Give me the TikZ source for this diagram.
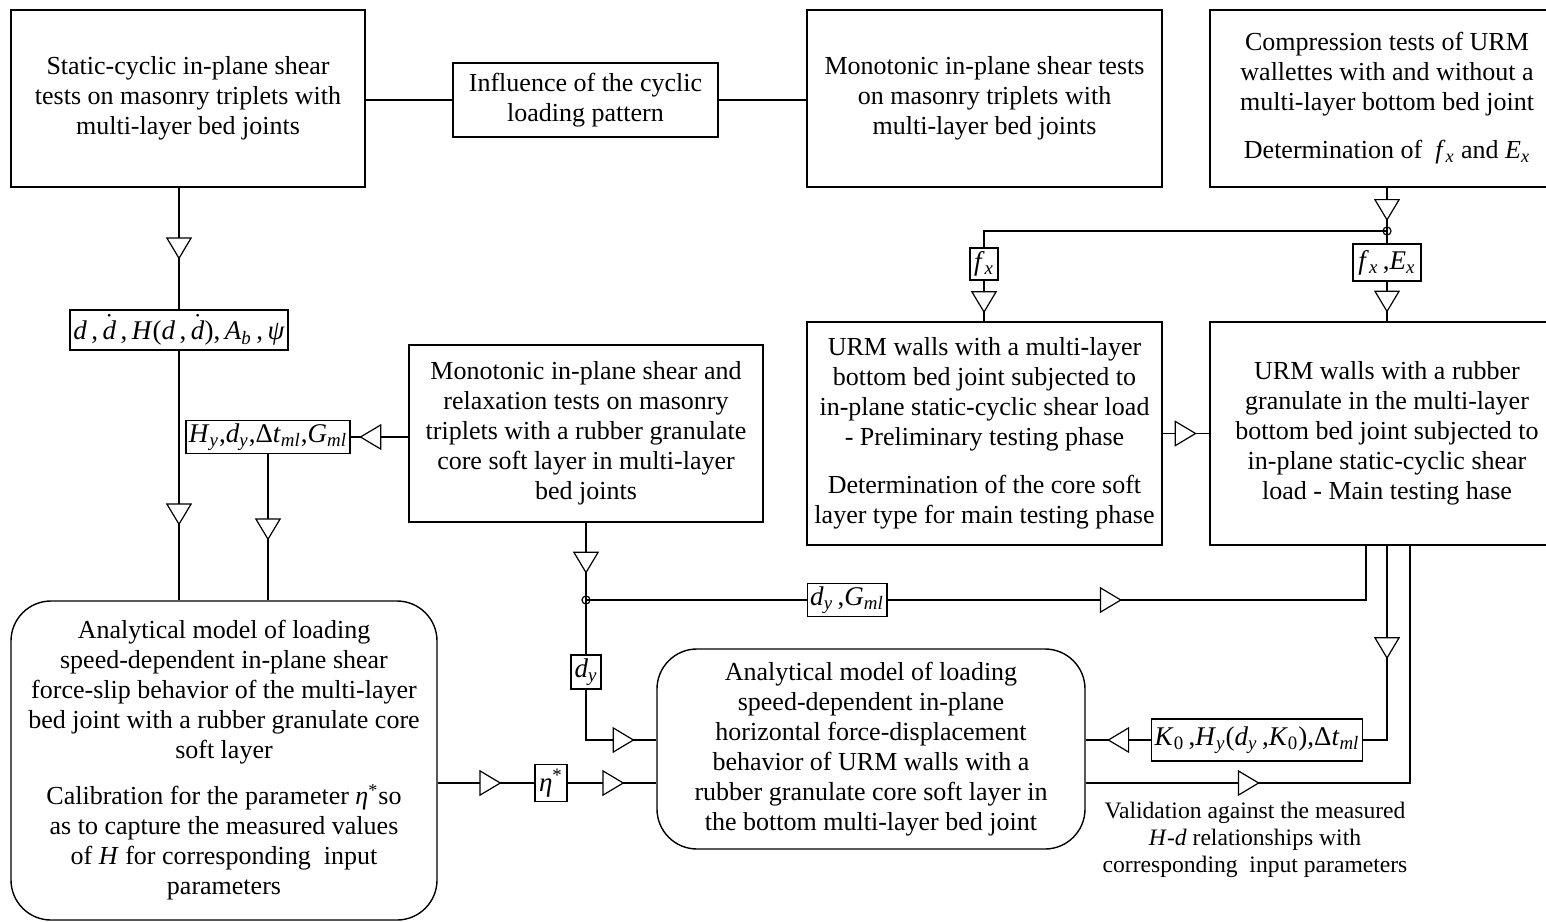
\documentclass[tikz,border=0pt]{standalone}
\usepackage{fontspec}
\setmainfont{Liberation Serif}
\usetikzlibrary{arrows.meta,decorations.markings}
\newcommand{\iv}[1]{\textit{#1}}
\newcommand{\ivs}[2]{\textit{#1}\textsubscript{\textit{#2}}}
\newcommand{\ivdot}{$\dot{\mbox{\textit{d}}}$}
\tikzset{
  box/.style={draw, line width=0.7pt, align=center, inner sep=2pt, font=\fontsize{13}{15}\selectfont},
  rbox/.style={box, rounded corners=20pt},
  lab/.style={draw, line width=0.7pt, inner sep=1.5pt, fill=white, font=\fontsize{13.5}{16}\selectfont},
  flow/.style={postaction={decorate}, decoration={markings,
    mark=at position #1 with {\arrow{Triangle[length=11pt,width=13pt,fill=white,line width=0.6pt]}}}},
  flow/.default=0.5
}
\begin{document}
\begin{tikzpicture}[x=0.5pt, y=-0.5pt, line width=0.6pt]
  \useasboundingbox (0,0) rectangle (1546,921);

  \node[box, minimum width=177pt, minimum height=88.5pt] (static) at (188,98.5)
    {Static-cyclic in-plane shear\\tests on masonry triplets with\\multi-layer bed joints};
  \node[box, minimum width=132.5pt, minimum height=37pt] (influence) at (585.5,100)
    {Influence of the cyclic\\loading pattern};
  \node[box, minimum width=177.5pt, minimum height=88.5pt] (mono) at (984.5,98.5)
    {Monotonic in-plane shear tests\\on masonry triplets with\\multi-layer bed joints};
  \node[box, minimum width=177pt, minimum height=88.5pt] (comp) at (1387,98.5)
    {Compression tests of URM\\wallettes with and without a\\multi-layer bottom bed joint\\[9pt]Determination of \ \ivs{f}{x} and \ivs{E}{x}};

  \node[box, minimum width=177.5pt, minimum height=111.5pt] (wallA) at (984.5,433.5)
    {URM walls with a multi-layer\\bottom bed joint subjected to\\in-plane static-cyclic shear load\\- Preliminary testing phase\\[9pt]Determination of the core soft\\layer type for main testing phase};
  \node[box, minimum width=177pt, minimum height=111.5pt] (wallB) at (1387,433.5)
    {URM walls with a rubber\\granulate in the multi-layer\\bottom bed joint subjected to\\in-plane static-cyclic shear\\load - Main testing hase};
  \node[box, minimum width=177pt, minimum height=88.5pt] (relax) at (586,433.5)
    {Monotonic in-plane shear and\\relaxation tests on masonry\\triplets with a rubber granulate\\core soft layer in multi-layer\\bed joints};

  \node[rbox, minimum width=213pt, minimum height=159.5pt] (model1) at (224,760.5)
    {Analytical model of loading\\speed-dependent in-plane shear\\force-slip behavior of the multi-layer\\bed joint with a rubber granulate core\\soft layer\\[8pt]Calibration for the parameter \iv{η}\textsuperscript{*}so\\as to capture the measured values\\of \iv{H} for corresponding\ \ input\\parameters};
  \node[rbox, minimum width=214pt, minimum height=100pt] (model2) at (871,749)
    {Analytical model of loading\\speed-dependent in-plane\\horizontal force-displacement\\behavior of URM walls with a\\rubber granulate core soft layer in\\the bottom multi-layer bed joint};

  \node[align=center, font=\fontsize{11.8}{13.5}\selectfont] (valtext) at (1255,840)
    {Validation against the measured\\\iv{H}-\iv{d} relationships with\\corresponding\ \ input parameters};

  \node[lab, minimum width=109pt, minimum height=20pt] (dlab) at (179,330)
    {\iv{d}\,,\,\ivdot\,,\,\iv{H}(\iv{d}\,,\,\ivdot),\,\ivs{A}{b}\,,\,\iv{ψ}};
  \node[lab, minimum width=82pt, minimum height=15pt] (hylab) at (268,437)
    {\ivs{H}{y},\ivs{d}{y},Δ\ivs{t}{ml},\ivs{G}{ml}};
  \node[lab, minimum width=14pt, minimum height=16pt] (fxlab) at (984,264) {\ivs{f}{x}};
  \node[lab, minimum width=34pt, minimum height=18.5pt] (fxelab) at (1387,262.5) {\ivs{f}{x}\,,\ivs{E}{x}};
  \node[lab, minimum width=37pt, minimum height=15pt] (dyglab) at (847,600) {\ivs{d}{y}\,,\ivs{G}{ml}};
  \node[lab, minimum width=15pt, minimum height=17pt] (dylab) at (586,672) {\ivs{d}{y}};
  \node[lab, minimum width=16pt, minimum height=18.5pt] (etalab) at (551,783) {\iv{η}\textsuperscript{*}};
  \node[lab, minimum width=105pt, minimum height=21pt] (k0lab) at (1257,740)
    {\iv{K}\textsubscript{0}\,,\ivs{H}{y}(\ivs{d}{y}\,,\iv{K}\textsubscript{0}),Δ\ivs{t}{ml}};

  \coordinate (j1) at (1387,231);
  \coordinate (j2) at (586,600);
  \coordinate (c1) at (1366,600);
  \coordinate (c2) at (1410,783);

  \draw (influence.west -| static.east) -- (influence.west);
  \draw (influence.east) -- (influence.east -| mono.west);

  \draw[flow=0.59] (static.south -| dlab.north) -- (dlab.north);
  \draw[flow=0.7] (dlab.south) -- (dlab.south |- model1.north);
  \draw[flow=0.85] (relax.west |- hylab) -- (hylab.east);
  \draw[flow=0.59] (hylab.south) -- (hylab.south |- model1.north);

  \draw[flow=0.77] (comp.south) -- (j1);
  \draw (j1) -| (fxlab.north);
  \draw (j1) -- (fxelab.north);
  \draw[flow=0.8] (fxlab.south) -- (fxlab.south |- wallA.north);
  \draw[flow=0.78] (fxelab.south) -- (wallB.north);
  \draw[flow=0.73] (wallA.east) -- (wallB.west);

  \draw[flow=0.66] (relax.south) -- (j2);
  \draw (j2) -- (dyglab.west);
  \draw (j2) -- (dylab.north);
  \draw[flow=0.44] (dyglab.east) -- (c1) -- (c1 |- wallB.south);
  \draw[flow=0.82] (dylab.south) |- (k0lab -| model2.west);
  \draw[flow=0.52] (wallB.south) |- (k0lab.east);
  \draw[flow=0.67] (k0lab.west) -- (k0lab -| model2.east);
  \draw[flow=0.31] (model2.east |- c2) -- (c2) -- (c2 |- wallB.south);
  \draw[flow=0.66] (model1.east |- etalab) -- (etalab.west);
  \draw[flow=0.64] (etalab.east) -- (etalab -| model2.west);

  \draw (j1) circle (2pt);
  \draw (j2) circle (2pt);
\end{tikzpicture}
\end{document}
